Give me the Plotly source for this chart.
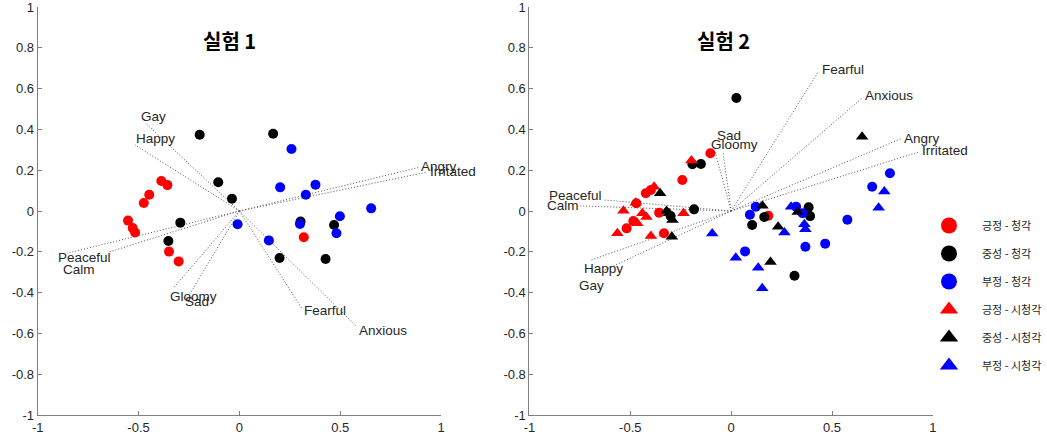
import plotly.graph_objects as go

# ---------------- data ----------------
group_names = ["긍정 - 청각", "중성 - 청각", "부정 - 청각", "긍정 - 시청각", "중성 - 시청각", "부정 - 시청각"]
group_colors = ["#FF0000", "#000000", "#0000FF", "#FF0000", "#000000", "#0000FF"]
group_symbols = ["circle", "circle", "circle", "triangle-up", "triangle-up", "triangle-up"]

# Experiment 1 (audio only)
e1_pos_x = [-0.387, -0.357, -0.447, -0.474, -0.552, -0.529, -0.517, -0.349, -0.301, 0.319]
e1_pos_y = [0.147, 0.127, 0.080, 0.039, -0.047, -0.083, -0.105, -0.199, -0.247, -0.129]
e1_neu_x = [-0.197, -0.105, -0.037, -0.293, -0.352, 0.167, 0.303, 0.469, 0.199, 0.427]
e1_neu_y = [0.374, 0.141, 0.060, -0.057, -0.147, 0.379, -0.052, -0.069, -0.230, -0.235]
e1_neg_x = [0.258, 0.202, 0.377, 0.329, 0.653, 0.498, 0.300, 0.481, -0.009, 0.146]
e1_neg_y = [0.304, 0.116, 0.129, 0.080, 0.013, -0.026, -0.064, -0.109, -0.065, -0.144]

# Experiment 2 (audio and audio-visual)
e2_pos_a_x = [-0.103, -0.242, -0.423, -0.398, -0.357, -0.485, -0.518, -0.333, 0.184, -0.470]
e2_pos_a_y = [0.283, 0.152, 0.087, 0.103, -0.008, -0.049, -0.085, -0.109, -0.023, 0.038]
e2_neu_a_x = [0.026, -0.192, -0.150, -0.184, 0.104, 0.164, 0.384, 0.391, 0.314, -0.300]
e2_neu_a_y = [0.554, 0.229, 0.230, 0.008, -0.069, -0.029, 0.018, -0.025, -0.317, -0.025]
e2_neg_a_x = [0.787, 0.699, 0.122, 0.093, 0.322, 0.354, 0.576, 0.466, 0.368, 0.069]
e2_neg_a_y = [0.185, 0.119, 0.021, -0.018, 0.021, -0.011, -0.043, -0.160, -0.175, -0.198]
e2_pos_av_x = [-0.197, -0.382, -0.473, -0.534, -0.440, -0.465, -0.564, -0.398, -0.236, -0.420]
e2_pos_av_y = [0.247, 0.119, 0.041, 0.001, -0.011, -0.060, -0.109, -0.123, -0.011, -0.030]
e2_neu_av_x = [0.649, 0.155, 0.330, 0.233, 0.195, -0.352, -0.308, -0.291, -0.294, -0.320]
e2_neu_av_y = [0.364, 0.026, -0.005, -0.077, -0.250, 0.087, -0.011, -0.044, -0.126, 0.000]
e2_neg_av_x = [0.759, 0.731, 0.297, 0.363, 0.368, 0.264, -0.094, 0.023, 0.134, 0.154]
e2_neg_av_y = [0.095, 0.016, 0.021, -0.065, -0.090, -0.106, -0.110, -0.229, -0.278, -0.379]

# Emotion-word vectors (biplot loadings) and their text label anchors
words = ["Gay", "Happy", "Peaceful", "Calm", "Gloomy", "Sad", "Fearful", "Anxious", "Angry", "Irritated"]
e1_vec_x = [-0.468, -0.518, -0.855, -0.649, -0.328, -0.246, 0.309, 0.582, 0.886, 0.931]
e1_vec_y = [0.433, 0.324, -0.207, -0.202, -0.379, -0.407, -0.477, -0.567, 0.213, 0.191]
e1_lab_x = [-0.500, -0.525, -0.908, -0.883, -0.353, -0.279, 0.311, 0.581, 0.890, 0.937]
e1_lab_y = [0.463, 0.353, -0.227, -0.289, -0.419, -0.446, -0.490, -0.588, 0.217, 0.196]

e2_vec_x = [-0.625, -0.693, -0.627, -0.759, -0.040, -0.080, 0.432, 0.647, 0.845, 0.936]
e2_vec_y = [-0.289, -0.240, 0.054, 0.025, 0.285, 0.291, 0.683, 0.552, 0.356, 0.291]
e2_lab_x = [-0.766, -0.741, -0.913, -0.921, -0.111, -0.078, 0.438, 0.655, 0.848, 0.936]
e2_lab_y = [-0.363, -0.281, 0.078, 0.029, 0.324, 0.368, 0.696, 0.565, 0.356, 0.299]

titles = ["실험 1", "실험 2"]
title_x = [-0.050, -0.040]
title_y = [0.838, 0.838]

x_ticks = [-1, -0.5, 0, 0.5, 1]
x_tick_text = ["-1", "-0.5", "0", "0.5", "1"]
y_ticks = [-1, -0.8, -0.6, -0.4, -0.2, 0, 0.2, 0.4, 0.6, 0.8, 1]
y_tick_text = ["-1", "-0.8", "-0.6", "-0.4", "-0.2", "0", "0.2", "0.4", "0.6", "0.8", "1"]

# ---------------- figure ----------------
fig = go.Figure()
TXT = "#262626"
AX = "#808080"
LINE = "#555555"
FONT = "Liberation Sans, Arial, sans-serif"

def add_vectors(vx, vy, xa, ya):
    for x, y in zip(vx, vy):
        fig.add_trace(go.Scatter(x=[0, x], y=[0, y], mode="lines", xaxis=xa, yaxis=ya,
                                 line=dict(color=LINE, width=1, dash="1px,2px"),
                                 showlegend=False, hoverinfo="skip"))

add_vectors(e1_vec_x, e1_vec_y, "x", "y")
add_vectors(e2_vec_x, e2_vec_y, "x2", "y2")

def add_points(xs, ys, gi, xa, ya, size):
    fig.add_trace(go.Scatter(x=xs, y=ys, mode="markers", xaxis=xa, yaxis=ya,
                             marker=dict(color=group_colors[gi], symbol=group_symbols[gi], size=size,
                                         line=dict(width=0)),
                             name=group_names[gi], showlegend=False))

add_points(e1_pos_x, e1_pos_y, 0, "x", "y", 10)
add_points(e1_neu_x, e1_neu_y, 1, "x", "y", 10)
add_points(e1_neg_x, e1_neg_y, 2, "x", "y", 10)
add_points(e2_pos_a_x, e2_pos_a_y, 0, "x2", "y2", 10)
add_points(e2_neu_a_x, e2_neu_a_y, 1, "x2", "y2", 10)
add_points(e2_neg_a_x, e2_neg_a_y, 2, "x2", "y2", 10)
add_points(e2_pos_av_x, e2_pos_av_y, 3, "x2", "y2", 11)
add_points(e2_neu_av_x, e2_neu_av_y, 4, "x2", "y2", 11)
add_points(e2_neg_av_x, e2_neg_av_y, 5, "x2", "y2", 11)

# legend entries (large legend symbols, no plotted data)
for gi, nm in enumerate(group_names):
    fig.add_trace(go.Scatter(x=[None], y=[None], mode="markers", xaxis="x2", yaxis="y2",
                             marker=dict(color=group_colors[gi], symbol=group_symbols[gi], size=16,
                                         line=dict(width=0)),
                             name=nm, legendgroup=str(gi), showlegend=True))

annotations = []
for xs, ys, labs, xr, yr in [(e1_lab_x, e1_lab_y, words, "x", "y"), (e2_lab_x, e2_lab_y, words, "x2", "y2")]:
    for x, y, t in zip(xs, ys, labs):
        annotations.append(dict(x=x, y=y, xref=xr, yref=yr, text=t, showarrow=False,
                                xanchor="left", yanchor="middle",
                                font=dict(family=FONT, size=13.5, color=TXT)))
for i, t in enumerate(titles):
    annotations.append(dict(x=title_x[i], y=title_y[i], xref="x" if i == 0 else "x2",
                            yref="y" if i == 0 else "y2", text="<b>" + t + "</b>", showarrow=False,
                            xanchor="center", yanchor="middle",
                            font=dict(family="Noto Sans CJK KR", size=20, color="#000000")))

axis_common = dict(range=[-1, 1], showgrid=False, zeroline=False, showline=True, linecolor=AX,
                   linewidth=1, ticks="inside", ticklen=4, tickcolor=AX, mirror=False,
                   automargin=False, ticklabeloverflow="allow",
                   tickfont=dict(family=FONT, size=13, color=TXT), fixedrange=True)

fig.update_layout(
    width=1047, height=441,
    margin=dict(l=0, r=0, t=0, b=0),
    paper_bgcolor="white", plot_bgcolor="white",
    xaxis=dict(domain=[38/1047, 445/1047], tickvals=x_ticks, ticktext=x_tick_text, anchor="y", **axis_common),
    yaxis=dict(domain=[26/441, 434/441], tickvals=y_ticks, ticktext=y_tick_text, anchor="x", **axis_common),
    xaxis2=dict(domain=[534/1047, 941/1047], tickvals=x_ticks, ticktext=x_tick_text, anchor="y2", **axis_common),
    yaxis2=dict(domain=[26/441, 434/441], tickvals=y_ticks, ticktext=y_tick_text, anchor="x2", **axis_common),
    annotations=annotations,
    showlegend=True,
    legend=dict(x=924/1047, y=1 - 211/441, xanchor="left", yanchor="top",
                font=dict(family="Noto Sans CJK KR", size=11, color=TXT),
                itemwidth=56, tracegroupgap=9, bgcolor="rgba(0,0,0,0)", borderwidth=0,
                itemclick=False, itemdoubleclick=False),
)

fig.write_html("out.html")
